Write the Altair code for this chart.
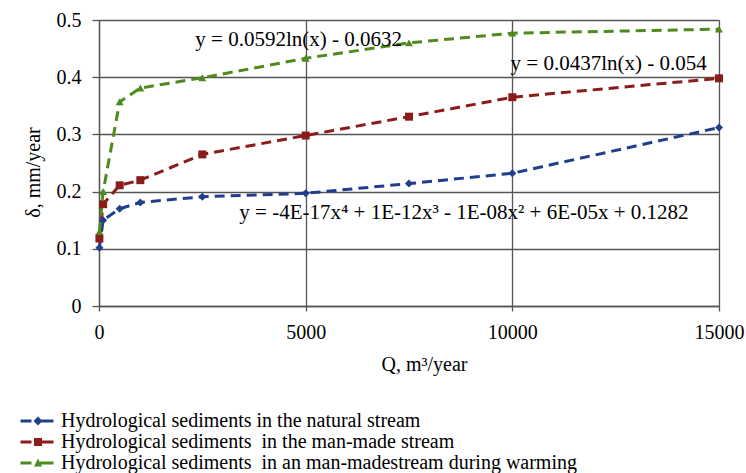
import altair as alt
import pandas as pd

# ---- data ----
Q = [10, 100, 500, 1000, 2500, 5000, 7500, 10000, 15000]
natural = [0.102, 0.150, 0.170, 0.181, 0.191, 0.197, 0.214, 0.232, 0.312]
manmade = [0.118, 0.178, 0.211, 0.220, 0.265, 0.298, 0.331, 0.365, 0.398]
warming = [0.130, 0.200, 0.357, 0.381, 0.399, 0.433, 0.460, 0.477, 0.484]

series_names = [
    "Hydrological sediments in the natural stream",
    "Hydrological sediments \u00a0in the man-made stream",
    "Hydrological sediments \u00a0in an man-madestream during warming",
]
series_colors = ["#1f3f8c", "#8c1c1c", "#4f8a1e"]
series_shapes = ["diamond", "square", "triangle-up"]
legend_paths = [
    "M-1.65,-0.15H-0.55V0.15H-1.65Z M0.1,-0.45L0.55,0L0.1,0.45L-0.35,0Z M0.2,-0.15H1.65V0.15H0.2Z",
    "M-1.65,-0.15H-0.55V0.15H-1.65Z M-0.3,-0.4H0.5V0.4H-0.3Z M0.5,-0.15H1.65V0.15H0.5Z",
    "M-1.65,-0.15H-0.55V0.15H-1.65Z M0.1,-0.45L0.5,0.35H-0.3Z M0.3,-0.15H1.65V0.15H0.3Z",
]

eq_text = [
    "y = 0.0592ln(x) - 0.0632",
    "y = 0.0437ln(x) - 0.054",
    "y = -4E-17x\u2074 + 1E-12x\u00b3 - 1E-08x\u00b2 + 6E-05x + 0.1282",
]
eq_q = [4830, 12330, 8830]
eq_v = [0.465, 0.423, 0.162]

x_ticks = [0, 5000, 10000, 15000]
y_ticks = [0, 0.1, 0.2, 0.3, 0.4, 0.5]

FONT = "Liberation Serif, Times New Roman, serif"
GRID = "#555555"

rows = []
for name, vals in zip(series_names, [natural, manmade, warming]):
    for q, v in zip(Q, vals):
        rows.append({"Q": q, "v": v, "series": name})
df = pd.DataFrame(rows)
eq_df = pd.DataFrame({"text": eq_text, "Q": eq_q, "v": eq_v})

x_enc = alt.X(
    "Q:Q",
    scale=alt.Scale(domain=[0, 15000], nice=False),
    axis=alt.Axis(
        values=x_ticks, format="d", title="Q, m\u00b3/year",
        labelFlush=False, labelOverlap=False, tickSize=5, labelPadding=11,
        titleX=325, titleY=64, titleBaseline="alphabetic", titleAlign="center",
    ),
)
y_enc = alt.Y(
    "v:Q",
    scale=alt.Scale(domain=[0, 0.5], nice=False),
    axis=alt.Axis(
        values=y_ticks, title="\u03b4, mm/year",
        labelExpr="datum.value == 0 ? '0' : format(datum.value, '.1f')",
        labelFlush=False, labelOverlap=False, tickSize=7, labelPadding=11,
        titleAngle=270, titleX=-66, titleY=152, titleBaseline="middle", titleAlign="center",
    ),
)

base = alt.Chart(df)
layers = []
for name, col in zip(series_names, series_colors):
    layers.append(
        base.transform_filter(alt.datum.series == name)
        .mark_line(color=col, strokeWidth=3, strokeDash=[10, 6])
        .encode(x=x_enc, y=y_enc)
    )
for name, col, shp in zip(series_names, series_colors, series_shapes):
    layers.append(
        base.transform_filter(alt.datum.series == name)
        .mark_point(shape=shp, filled=True, color=col, size=64, opacity=1)
        .encode(x=x_enc, y=y_enc)
    )

legend_props = dict(
    title=None, orient="none", legendX=-72, legendY=391,
    labelFont=FONT, labelFontSize=20, labelColor="black",
    symbolSize=400, symbolStrokeWidth=0, labelOffset=14, rowPadding=1,
    labelLimit=700,
)
legend_layer = (
    base.transform_filter("false")
    .mark_point(filled=True, opacity=1, size=400, strokeWidth=0)
    .encode(
        x=x_enc, y=y_enc,
        color=alt.Color("series:N", scale=alt.Scale(domain=series_names, range=series_colors),
                        legend=alt.Legend(**legend_props)),
        shape=alt.Shape("series:N", scale=alt.Scale(domain=series_names, range=legend_paths),
                        legend=alt.Legend(**legend_props)),
    )
)
layers.append(legend_layer)

text_layer = alt.Chart(eq_df).mark_text(
    font=FONT, fontSize=21, color="black", align="center", baseline="middle"
).encode(x=x_enc, y=y_enc, text="text:N")
layers.append(text_layer)

chart = (
    alt.layer(*layers)
    .properties(
        width=620, height=286,
        padding={"left": 99, "top": 20, "right": 27, "bottom": 167},
        autosize=alt.AutoSizeParams(type="none"),
        background="white",
    )
    .configure_view(stroke=None)
    .configure_axis(
        labelFont=FONT, labelFontSize=20, labelColor="black",
        titleFont=FONT, titleFontSize=20, titleFontWeight="normal", titleColor="black",
        gridColor=GRID, gridWidth=1.3, gridOpacity=1,
        domainColor=GRID, domainWidth=1.3, tickColor=GRID, tickWidth=1.3,
    )
)

chart.save("out.html", embed_options={"renderer": "svg", "actions": False})
